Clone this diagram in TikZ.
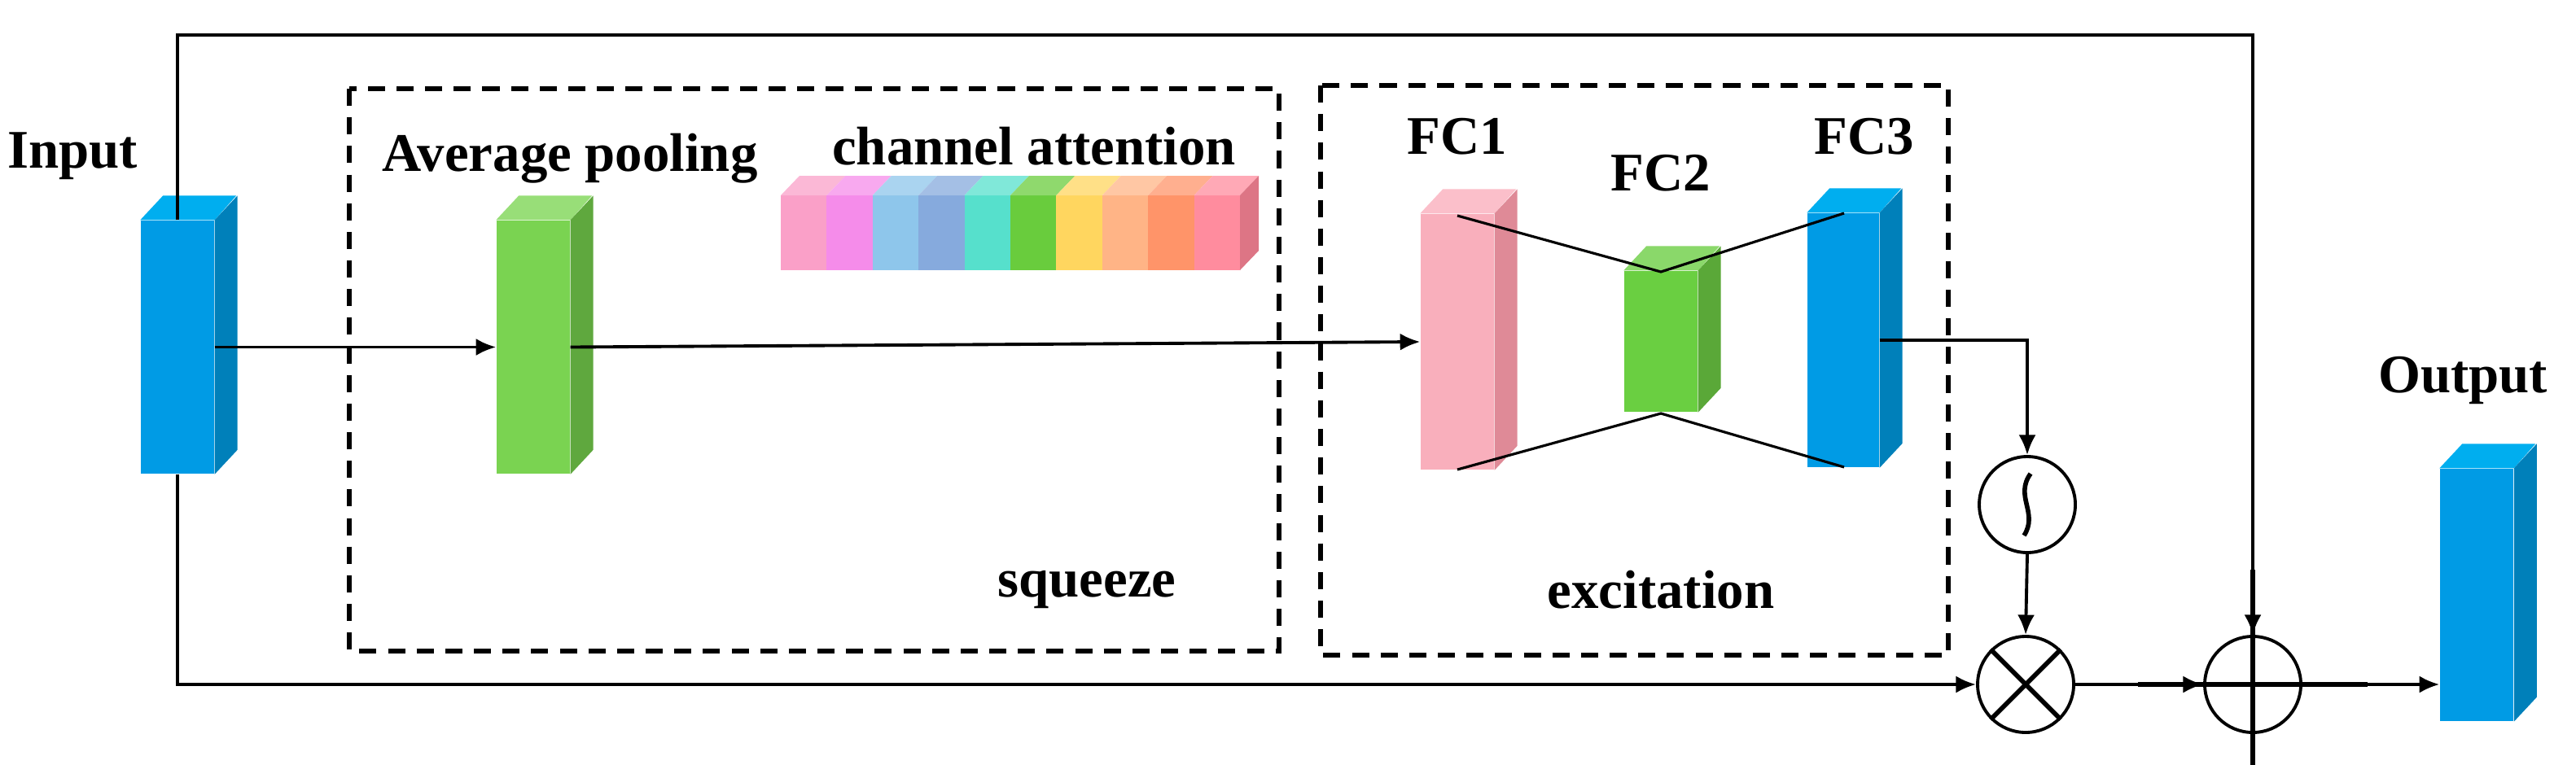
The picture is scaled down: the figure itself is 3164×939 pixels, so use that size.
\documentclass[tikz,border=0pt]{standalone}
\usepackage{fontspec}
\setmainfont{Liberation Serif}
\usetikzlibrary{arrows.meta,calc}
\definecolor{bF}{HTML}{009BE5}\definecolor{bT}{HTML}{00AEEF}\definecolor{bS}{HTML}{0080BA}
\definecolor{gF}{HTML}{7AD351}\definecolor{gT}{HTML}{98DE78}\definecolor{gS}{HTML}{5FA83E}
\definecolor{pF}{HTML}{F9AFBC}\definecolor{pT}{HTML}{FBBFCA}\definecolor{pS}{HTML}{DF8A97}
\definecolor{hF}{HTML}{6ACF41}\definecolor{hT}{HTML}{8AD86A}\definecolor{hS}{HTML}{5AA838}
\definecolor{s1}{HTML}{FAA0C8}\definecolor{s2}{HTML}{F58CEA}\definecolor{s3}{HTML}{8EC6EB}
\definecolor{s4}{HTML}{86AADD}\definecolor{s5}{HTML}{56E0CC}\definecolor{s6}{HTML}{69CC3D}
\definecolor{s7}{HTML}{FFD65F}\definecolor{s8}{HTML}{FFB486}\definecolor{s9}{HTML}{FF9469}
\definecolor{s10}{HTML}{FF8C9E}\definecolor{sS}{HTML}{DD7585}
\newcommand\mycube[8]{%
  \node[fill=#6,inner sep=0,minimum width=#4*0.01cm,minimum height=#5*0.01cm] (#1) at (#2,#3) {};
  \fill[#7] (#1.north west) -- ++(28,-30) -- ++(#4,0) -- (#1.north east) -- cycle;
  \fill[#8] (#1.north east) -- ++(28,-30) -- ($(#1.south east)+(28,-30)$) -- (#1.south east) -- cycle;}
\begin{document}
\begin{tikzpicture}[x=0.01cm,y=-0.01cm,
  lbl/.style={font=\fontsize{19}{22}\selectfont\bfseries,inner sep=0},
  ln/.style={line width=1.1pt},
  arr/.style={ln,-{Latex[length=7pt,width=6pt]}},
  dbox/.style={line width=1.8pt,dash pattern=on 6pt off 4pt},
  op/.style={circle,draw,line width=1.1pt,minimum size=118*0.01cm,inner sep=0}]
\useasboundingbox (0,0) rectangle (3164,939);
% dashed boxes
\draw[dbox] (429,109) rectangle (1571,800);
\draw[dbox] (1622,105) rectangle (2393,805);
% blocks
\mycube{in}{218}{426.5}{90}{311}{bF}{bT}{bS}
\mycube{avg}{655}{426.5}{90}{311}{gF}{gT}{gS}
\mycube{fc1}{1790}{420}{90}{314}{pF}{pT}{pS}
\mycube{fc2}{2040}{419.5}{90}{173}{hF}{hT}{hS}
\mycube{fc3}{2264}{418}{88}{312}{bF}{bT}{bS}
\mycube{out}{3042}{731}{90}{310}{bF}{bT}{bS}
% channel strip
\foreach \i in {1,...,10}{
  \fill[s\i] ({959+(\i-1)*56.4},240) rectangle ({959+\i*56.4},332);
  \fill[s\i!75!white] ({959+(\i-1)*56.4},240) -- ++(23,-24) -- ++(56.4,0) -- ({959+\i*56.4},240) -- cycle;}
\fill[sS] (1523,240) -- (1546,216) -- (1546,308) -- (1523,332) -- cycle;
% labels
\node[lbl] (tin) at (89,192) {Input};
\node[lbl] (tavg) at (700,195) {Average pooling};
\node[lbl] (tca) at (1270,180) {channel attention};
\node[lbl] (tsq) at (1335,725) {squeeze};
\node[lbl] (tex) at (2040,725) {excitation};
\node[lbl] (t1) at (1790,168) {FC1};
\node[lbl] (t2) at (2040,213) {FC2};
\node[lbl] (t3) at (2290,168) {FC3};
\node[lbl] (tout) at (3025,467) {Output};
% FC connecting lines
\coordinate (a1) at (1790,265); \coordinate (a2) at (2040,334); \coordinate (a3) at (2265,262);
\coordinate (b1) at (1790,577); \coordinate (b2) at (2040,508); \coordinate (b3) at (2265,574);
\draw[line width=0.9pt] (a1) -- (a2) -- (a3);
\draw[line width=0.9pt] (b1) -- (b2) -- (b3);
% operators
\node[op] (sig) at (2490,620) {};
\node[op] (mul) at (2488,841) {};
\node[op] (add) at (2767,841) {};
\draw[line width=1.6pt] ([shift={(4,-38)}]sig.center) .. controls ([shift={(-16,-10)}]sig.center) and ([shift={(14,10)}]sig.center) .. ([shift={(-4,38)}]sig.center);
\draw[line width=1.6pt] (mul.north west) -- (mul.south east) (mul.north east) -- (mul.south west);
\draw[line width=1.6pt] ([yshift=-40]add.center) -- ([yshift=40]add.center) ([xshift=-40]add.center) -- ([xshift=40]add.center);
% connectors
\draw[arr] (in.east) -- (avg.west);
\draw[arr] (avg.east) -- (fc1.west);
\draw[arr] (fc3.east) -| (sig.north);
\draw[arr] (sig.south) -- (mul.north);
\draw[arr] (mul.east) -- (add.west);
\draw[arr] (add.east) -- (add.east -| out.west);
\draw[arr] (in.north) -- (218,43) -| (add.north);
\draw[arr] (in.south) |- (mul.west);
\end{tikzpicture}
\end{document}
